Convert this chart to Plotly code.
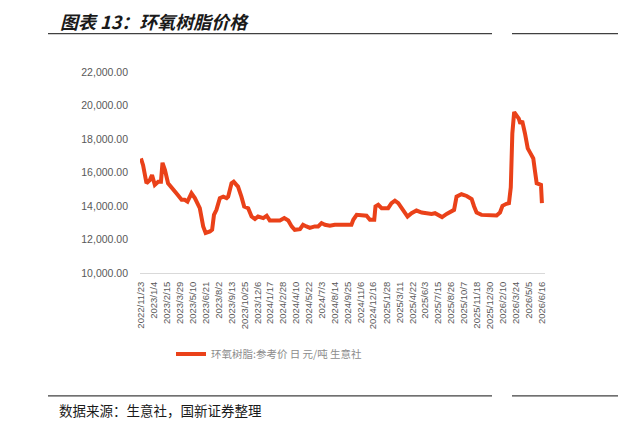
import plotly.graph_objects as go

# ---- data ----
dates = [
    "2022-11-23", "2022-11-30", "2022-12-11", "2022-12-22", "2022-12-29", "2023-01-07",
    "2023-01-18", "2023-01-27", "2023-02-01", "2023-02-09", "2023-02-19", "2023-03-07",
    "2023-03-18", "2023-04-04", "2023-04-14", "2023-04-23", "2023-05-06", "2023-05-17",
    "2023-06-02", "2023-06-13", "2023-06-21", "2023-07-05", "2023-07-12", "2023-07-18",
    "2023-07-26", "2023-08-06", "2023-08-17", "2023-08-28", "2023-09-02", "2023-09-13",
    "2023-09-20", "2023-09-29", "2023-10-04", "2023-10-15", "2023-10-24", "2023-11-06",
    "2023-11-17", "2023-11-28", "2023-12-08", "2023-12-25", "2024-01-05", "2024-01-15",
    "2024-02-17", "2024-03-02", "2024-03-15", "2024-03-26", "2024-04-05", "2024-04-22",
    "2024-05-02", "2024-05-13", "2024-05-24", "2024-06-09", "2024-06-20", "2024-07-01",
    "2024-07-12", "2024-07-28", "2024-08-13", "2024-10-06", "2024-10-12", "2024-10-23",
    "2024-11-13", "2024-11-24", "2024-12-05", "2024-12-19", "2024-12-23", "2025-01-01",
    "2025-01-12", "2025-02-02", "2025-02-13", "2025-02-24", "2025-03-07", "2025-03-18",
    "2025-03-29", "2025-04-06", "2025-04-19", "2025-05-05", "2025-05-22", "2025-06-07",
    "2025-06-23", "2025-07-04", "2025-07-14", "2025-07-27", "2025-08-11", "2025-08-27",
    "2025-09-04", "2025-09-12", "2025-09-28", "2025-10-15", "2025-10-31", "2025-11-08",
    "2025-11-16", "2025-12-02", "2025-12-24", "2026-01-20", "2026-01-31", "2026-02-08",
    "2026-02-21", "2026-03-01", "2026-03-07", "2026-03-12", "2026-03-18", "2026-03-26",
    "2026-04-02", "2026-04-07", "2026-04-13", "2026-04-22", "2026-05-01", "2026-05-10",
    "2026-05-19", "2026-05-24", "2026-05-30", "2026-06-13", "2026-06-16",
]
prices = [
    16840, 16440, 15360, 15550, 15850, 15260,
    15450, 15450, 16580, 16150, 15360, 14960,
    14760, 14370, 14370, 14260, 14760, 14470,
    13870, 12780, 12390, 12480, 12580, 13470,
    13770, 14470, 14560, 14470, 14560, 15360,
    15450, 15260, 15160, 14560, 13970, 13870,
    13370, 13220, 13370, 13280, 13420, 13140,
    13140, 13280, 13140, 12780, 12580, 12620,
    12880, 12780, 12690, 12780, 12780, 12980,
    12880, 12820, 12880, 12880, 13180, 13470,
    13470, 13420, 13180, 13180, 13970, 14070,
    13870, 13870, 14170, 14320, 14170, 13870,
    13670, 13370, 13570, 13730, 13610, 13570,
    13530, 13570, 13470, 13340, 13530, 13670,
    13770, 14560, 14700, 14600, 14410, 13970,
    13610, 13470, 13430, 13430, 13610, 14010,
    14130, 14170, 15120, 18330, 19610, 19410,
    19220, 18920, 19080, 18330, 17440, 17140,
    16840, 16150, 15360, 15260, 14170,
]
tick_dates = [
    "2022-11-23", "2023-01-04", "2023-02-15", "2023-03-29", "2023-05-10", "2023-06-21",
    "2023-08-02", "2023-09-13", "2023-10-25", "2023-12-06", "2024-01-17", "2024-02-28",
    "2024-04-10", "2024-05-22", "2024-07-03", "2024-08-14", "2024-09-25", "2024-11-06",
    "2024-12-16", "2025-01-28", "2025-03-11", "2025-04-22", "2025-06-03", "2025-07-15",
    "2025-08-26", "2025-10-07", "2025-11-18", "2025-12-30", "2026-02-10", "2026-03-24",
    "2026-05-05", "2026-06-16",
]
tick_labels = [
    "2022/11/23", "2023/1/4", "2023/2/15", "2023/3/29", "2023/5/10", "2023/6/21",
    "2023/8/2", "2023/9/13", "2023/10/25", "2023/12/6", "2024/1/17", "2024/2/28",
    "2024/4/10", "2024/5/22", "2024/7/3", "2024/8/14", "2024/9/25", "2024/11/6",
    "2024/12/16", "2025/1/28", "2025/3/11", "2025/4/22", "2025/6/3", "2025/7/15",
    "2025/8/26", "2025/10/7", "2025/11/18", "2025/12/30", "2026/2/10", "2026/3/24",
    "2026/5/5", "2026/6/16",
]
y_ticks = [10000, 12000, 14000, 16000, 18000, 20000, 22000]
series_name = "环氧树脂:参考价 日 元/吨 生意社"
title_text = "图表 13：环氧树脂价格"
source_text = "数据来源：生意社，国新证券整理"

# ---- layout geometry (pixels) ----
W, H = 618, 430
PL, PR, PT, PB = 140, 545, 71.5, 273.5


def px_x(px):
    return (px - PL) / (PR - PL)


def px_y(py):
    return (PB - py) / (PB - PT)


fig = go.Figure()
fig.add_trace(go.Scatter(
    x=dates, y=prices, mode="lines", name=series_name,
    line=dict(color="#EA4119", width=4),
))

grey = "#595959"
fig.update_layout(
    width=W, height=H,
    margin=dict(l=PL, r=W - PR, t=PT, b=H - PB, pad=0),
    paper_bgcolor="white", plot_bgcolor="white",
    font=dict(family="Liberation Sans, Arial, sans-serif", color=grey),
    showlegend=True,
    legend=dict(
        orientation="h", x=px_x(171), y=px_y(355), xanchor="left", yanchor="middle",
        font=dict(size=10.5, color="#8c8c8c", family="Noto Sans CJK SC"),
        bgcolor="rgba(0,0,0,0)",
    ),
    xaxis=dict(
        type="date", range=["2022-11-20", "2026-06-26"],
        tickvals=tick_dates, ticktext=tick_labels, tickangle=-90,
        tickfont=dict(size=9.5, color=grey),
        showgrid=False, zeroline=False, showline=True, linecolor="#d9d9d9", linewidth=1,
        ticks="", ticklabelstandoff=4,
    ),
    yaxis=dict(
        range=[10000, 22000], tickvals=y_ticks, tickformat=",.2f",
        tickfont=dict(size=10.5, color=grey),
        showgrid=False, zeroline=False, showline=False,
        ticks="", ticklabelstandoff=11,
    ),
)

# title, rules and source
fig.add_annotation(
    text="<b><i>" + title_text + "</i></b>", xref="paper", yref="paper",
    x=px_x(58), y=px_y(20), xanchor="left", yanchor="middle", showarrow=False,
    font=dict(size=18, color="#1a1a1a", family="Noto Sans CJK SC"),
)
for (x0, x1, yy) in [(48, 492, 33), (512, 618, 33), (48, 492, 397), (512, 618, 397)]:
    fig.add_shape(type="line", xref="paper", yref="paper",
                  x0=px_x(x0), x1=px_x(x1), y0=px_y(yy), y1=px_y(yy),
                  line=dict(color="#404040", width=1.2))
fig.add_annotation(
    text=source_text, xref="paper", yref="paper",
    x=px_x(57), y=px_y(411), xanchor="left", yanchor="middle", showarrow=False,
    font=dict(size=13.5, color="#1a1a1a", family="Noto Sans CJK SC"),
)

fig.write_html("out.html")
